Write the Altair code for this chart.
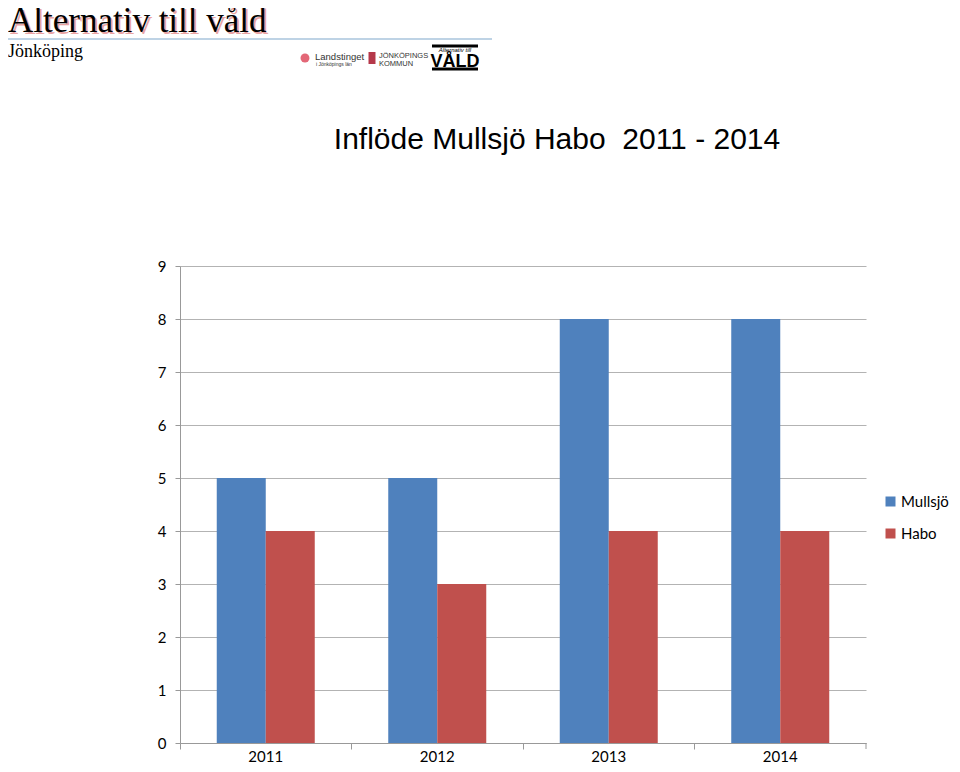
import altair as alt
import pandas as pd

years = ["2011", "2012", "2013", "2014"]
mullsjo = [5, 5, 8, 8]
habo = [4, 3, 4, 4]
series = ["Mullsjö", "Habo"]
colors = ["#4f81bd", "#c0504d"]

rows = []
for i, y in enumerate(years):
    rows.append({"year": y, "serie": "Mullsjö", "value": mullsjo[i]})
    rows.append({"year": y, "serie": "Habo", "value": habo[i]})
df = pd.DataFrame(rows)

W, H = 686, 477
FONT = "Lato"

bars = alt.Chart(df).mark_bar().encode(
    x=alt.X("year:N", sort=years, title=None,
            scale=alt.Scale(paddingInner=0, paddingOuter=0),
            axis=alt.Axis(labelAngle=0, bandPosition=0, labelOffset=0,
                          labelFontSize=15, labelColor="black", labelFont=FONT,
                          tickColor="#999999", tickSize=6, domainColor="#999999",
                          labelPadding=0, grid=False)),
    xOffset=alt.XOffset("serie:N", sort=series,
                        scale=alt.Scale(paddingInner=0, paddingOuter=0.75)),
    y=alt.Y("value:Q", title=None,
            scale=alt.Scale(domain=[0, 9], nice=False),
            axis=alt.Axis(values=list(range(10)), labelFontSize=15, labelColor="black",
                          labelFont=FONT, tickColor="#999999", tickSize=5,
                          domainColor="#999999", gridColor="#b3b3b3",
                          labelPadding=9)),
    color=alt.Color("serie:N", sort=series,
                    scale=alt.Scale(domain=series, range=colors),
                    legend=alt.Legend(title=None, orient="none", legendX=703, legendY=228,
                                      symbolType="square", symbolSize=100,
                                      symbolStrokeWidth=0, labelFontSize=15,
                                      labelFont=FONT, labelColor="black",
                                      rowPadding=16, labelOffset=3)),
)

one = pd.DataFrame({"a": [0]})

def txt(text, x, y, size, font="Liberation Sans", color="black", weight="normal",
        align="left", style="normal"):
    return alt.Chart(one).mark_text(text=text, font=font, fontSize=size, color=color,
                                    fontWeight=weight, align=align, baseline="alphabetic",
                                    fontStyle=style).encode(
        x=alt.value(x), y=alt.value(y))

ox, oy = 180, 266  # plot origin in page pixels

end_tick = alt.Chart(one).mark_rule(color="#999999").encode(
    x=alt.value(W), y=alt.value(H), y2=alt.value(H + 6))

header_line = alt.Chart(one).mark_rule(color="#a9c4dc", strokeWidth=1.5).encode(
    x=alt.value(8 - ox), x2=alt.value(492 - ox), y=alt.value(39 - oy))

vold_top = alt.Chart(one).mark_rule(color="black", strokeWidth=3).encode(
    x=alt.value(432 - ox), x2=alt.value(478 - ox), y=alt.value(46 - oy))
vold_bot = alt.Chart(one).mark_rule(color="black", strokeWidth=3).encode(
    x=alt.value(432 - ox), x2=alt.value(478 - ox), y=alt.value(69 - oy))
logo_dot = alt.Chart(one).mark_point(filled=True, color="#d7263d", size=80, shape="circle").encode(
    x=alt.value(305 - ox), y=alt.value(58 - oy))
crest = alt.Chart(one).mark_rule(color="#b5384a", strokeWidth=7).encode(
    x=alt.value(372 - ox), y=alt.value(52 - oy), y2=alt.value(64 - oy))

layers = [
    bars,
    end_tick,
    txt("Inflöde Mullsjö Habo\u00a0 2011 - 2014", 557 - ox, 149 - oy, 30, align="center"),
    txt("Alternativ till våld", 10 - ox, 34 - oy, 35, font="Liberation Serif", color="#e9a3a3"),
    txt("Alternativ till våld", 8 - ox, 32 - oy, 35, font="Liberation Serif"),
    header_line,
    txt("Jönköping", 8 - ox, 57 - oy, 18, font="Liberation Serif"),
    logo_dot,
    txt("Landstinget", 315 - ox, 60 - oy, 9.5, color="#333333"),
    txt("i Jönköpings län", 316 - ox, 66 - oy, 5, color="#333333"),
    crest,
    txt("JÖNKÖPINGS", 379 - ox, 58 - oy, 7.5, color="#333333"),
    txt("KOMMUN", 379 - ox, 66 - oy, 7.5, color="#333333"),
    vold_top,
    vold_bot,
    txt("Alternativ till", 455 - ox, 52 - oy, 6, align="center", style="italic"),
    txt("VÅLD", 455 - ox, 67 - oy, 18, weight="bold", align="center"),
]

chart = alt.layer(*layers).properties(
    width=W, height=H,
    autosize=alt.AutoSizeParams(type="none"),
    padding={"left": 172, "top": 258, "right": 86, "bottom": 22},
).configure_view(stroke=None)

chart.save("out.html", embed_options={"renderer": "svg", "actions": False})
